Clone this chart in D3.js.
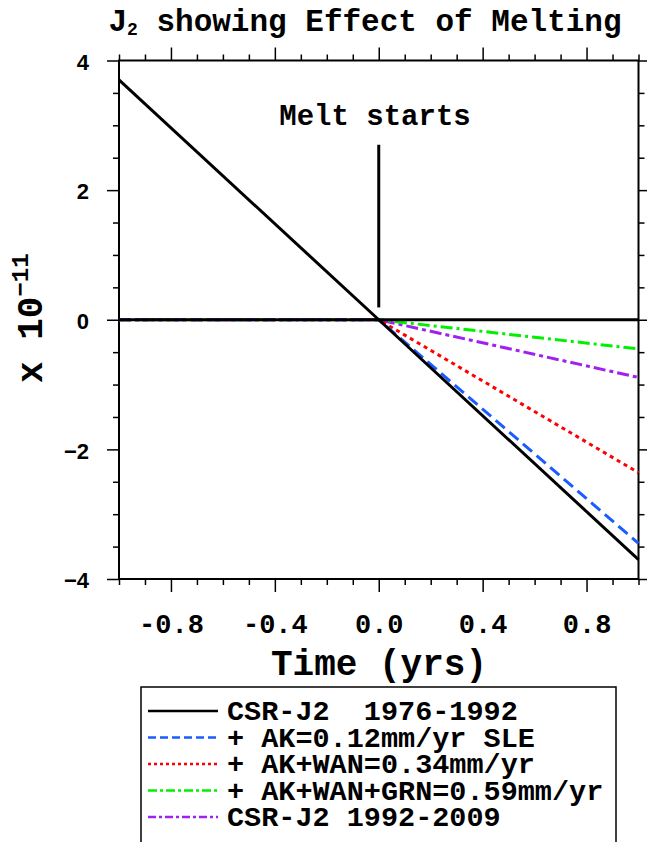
<!DOCTYPE html>
<html><head><meta charset="utf-8">
<script src="https://cdn.jsdelivr.net/npm/d3@7"></script>
<style>body{margin:0;background:#fff}svg{display:block}</style>
</head><body>
<script>
// ---- data ----
const timeYrs = [-1, 0, 1];
const csr7692 = [3.7, 0, -3.7];
const ak = [0, 0, -3.45];
const akWan = [0, 0, -2.36];
const akWanGrn = [0, 0, -0.45];
const csr9209 = [0, 0, -0.89];
const zeroLine = [0, 0, 0];
const seriesNames = ["CSR-J2  1976-1992", "+ AK=0.12mm/yr SLE", "+ AK+WAN=0.34mm/yr", "+ AK+WAN+GRN=0.59mm/yr", "CSR-J2 1992-2009"];
const xMajorTicks = [-0.8, -0.4, 0, 0.4, 0.8];
const xMinorTicks = [-1, -0.9, -0.7, -0.6, -0.5, -0.3, -0.2, -0.1, 0.1, 0.2, 0.3, 0.5, 0.6, 0.7, 0.9, 1];
const yMajorTicks = [-4, -2, 0, 2, 4];
const yMinorTicks = [-3.5, -3, -2.5, -1.5, -1, -0.5, 0.5, 1, 1.5, 2.5, 3, 3.5];
const meltMarker = {x: 0, y0: 0.19, y1: 2.7, label: "Melt starts"};

const W = 647, H = 842;
const L = 119, R = 638.5, T = 60.5, B = 579;
const mono = "'Liberation Mono', 'DejaVu Sans Mono', monospace";

const svg = d3.select("body").append("svg").attr("width", W).attr("height", H);
const x = d3.scaleLinear().domain([-1, 1]).range([L, R]);
const y = d3.scaleLinear().domain([-4, 4]).range([B, T]);

// title
const title = svg.append("text").attr("x", 365).attr("y", 31).attr("text-anchor", "middle")
  .attr("font-family", mono).attr("font-weight", "bold").attr("font-size", 31).attr("fill", "#000");
title.append("tspan").text("J");
title.append("tspan").attr("font-size", 18).attr("dy", 4).text("2");
title.append("tspan").attr("dy", -4).text(" showing Effect of Melting");

function styleAxis(g) {
  g.select(".domain").remove();
  g.selectAll("line").attr("stroke", "#000").attr("stroke-width", 1.5);
}
// minor ticks
svg.append("g").attr("transform", `translate(0,${B})`).call(d3.axisBottom(x).tickValues(xMinorTicks).tickSize(6).tickFormat("")).call(styleAxis);
svg.append("g").attr("transform", `translate(0,${T})`).call(d3.axisTop(x).tickValues(xMinorTicks).tickSize(6).tickFormat("")).call(styleAxis);
svg.append("g").attr("transform", `translate(${L},0)`).call(d3.axisLeft(y).tickValues(yMinorTicks).tickSize(6).tickFormat("")).call(styleAxis);
svg.append("g").attr("transform", `translate(${R},0)`).call(d3.axisRight(y).tickValues(yMinorTicks).tickSize(6).tickFormat("")).call(styleAxis);
// major ticks
const xb = svg.append("g").attr("transform", `translate(0,${B})`)
  .call(d3.axisBottom(x).tickValues(xMajorTicks).tickSize(13).tickFormat(d => d.toFixed(1))).call(styleAxis);
xb.selectAll("text").attr("y", 54).attr("dy", 0).attr("font-family", mono).attr("font-weight", "bold").attr("font-size", 27).attr("fill", "#000");
svg.append("g").attr("transform", `translate(0,${T})`).call(d3.axisTop(x).tickValues(xMajorTicks).tickSize(13).tickFormat("")).call(styleAxis);
const yl = svg.append("g").attr("transform", `translate(${L},0)`)
  .call(d3.axisLeft(y).tickValues(yMajorTicks).tickSize(12).tickPadding(18)).call(styleAxis);
yl.selectAll("text").attr("dy", "0.4em").attr("font-family", "'Liberation Sans', Arial, sans-serif").attr("font-weight", "bold").attr("font-size", 22).attr("fill", "#000");
svg.append("g").attr("transform", `translate(${R},0)`).call(d3.axisRight(y).tickValues(yMajorTicks).tickSize(12).tickFormat("")).call(styleAxis);

// frame
svg.append("rect").attr("x", L).attr("y", T).attr("width", R - L).attr("height", B - T)
  .attr("fill", "none").attr("stroke", "#000").attr("stroke-width", 2);

// axis titles
svg.append("text").attr("x", 379).attr("y", 675).attr("text-anchor", "middle")
  .attr("font-family", mono).attr("font-weight", "bold").attr("font-size", 36).text("Time (yrs)");
const ylab = svg.append("text").attr("transform", "translate(42,383) rotate(-90)")
  .attr("font-family", mono).attr("font-weight", "bold").attr("font-size", 36);
ylab.append("tspan").text("x 10");
ylab.append("tspan").attr("font-size", 24).attr("dy", -14).text("\u221211");

// series
const series = [
  {vals: csr9209, color: "#a020f0", dash: "12,4,4,4", w: 3},
  {vals: akWanGrn, color: "#00f000", dash: "12,4,3,4", w: 3},
  {vals: akWan, color: "#ff0000", dash: "4,4", w: 3},
  {vals: ak, color: "#1a5cff", dash: "12,6", w: 3},
];
const line = d3.line().x((d, i) => x(timeYrs[i])).y(d => y(d));
series.forEach(s => {
  svg.append("path").datum(s.vals).attr("d", line).attr("fill", "none")
    .attr("stroke", s.color).attr("stroke-width", s.w).attr("stroke-dasharray", s.dash);
});
svg.append("path").datum(zeroLine).attr("d", line).attr("fill", "none").attr("stroke", "#000").attr("stroke-width", 3);
svg.append("path").datum(csr7692).attr("d", line).attr("fill", "none").attr("stroke", "#000").attr("stroke-width", 3);

// melt marker
svg.append("line").attr("x1", x(meltMarker.x)).attr("x2", x(meltMarker.x))
  .attr("y1", y(meltMarker.y0)).attr("y2", y(meltMarker.y1)).attr("stroke", "#000").attr("stroke-width", 3);
svg.append("text").attr("x", 375).attr("y", 125).attr("text-anchor", "middle")
  .attr("font-family", mono).attr("font-weight", "bold").attr("font-size", 29).text(meltMarker.label);

// legend
svg.append("rect").attr("x", 141).attr("y", 687).attr("width", 475).attr("height", 200)
  .attr("fill", "#fff").attr("stroke", "#000").attr("stroke-width", 1.5);
const legendStyles = [
  {color: "#000", dash: null},
  {color: "#1a5cff", dash: "8,4"},
  {color: "#ff0000", dash: "3,3"},
  {color: "#00f000", dash: "9,3,3,3"},
  {color: "#a020f0", dash: "8,3,3,3"},
];
seriesNames.forEach((name, i) => {
  const cy = 711 + i * 26.5;
  svg.append("line").attr("x1", 148).attr("x2", 218).attr("y1", cy).attr("y2", cy)
    .attr("stroke", legendStyles[i].color).attr("stroke-width", 2.5)
    .attr("stroke-dasharray", legendStyles[i].dash);
  svg.append("text").attr("x", 227).attr("y", cy + 9).attr("xml:space", "preserve").style("white-space", "pre")
    .attr("font-family", mono).attr("font-weight", "bold").attr("font-size", 28.5).text(name);
});
</script>
</body></html>
